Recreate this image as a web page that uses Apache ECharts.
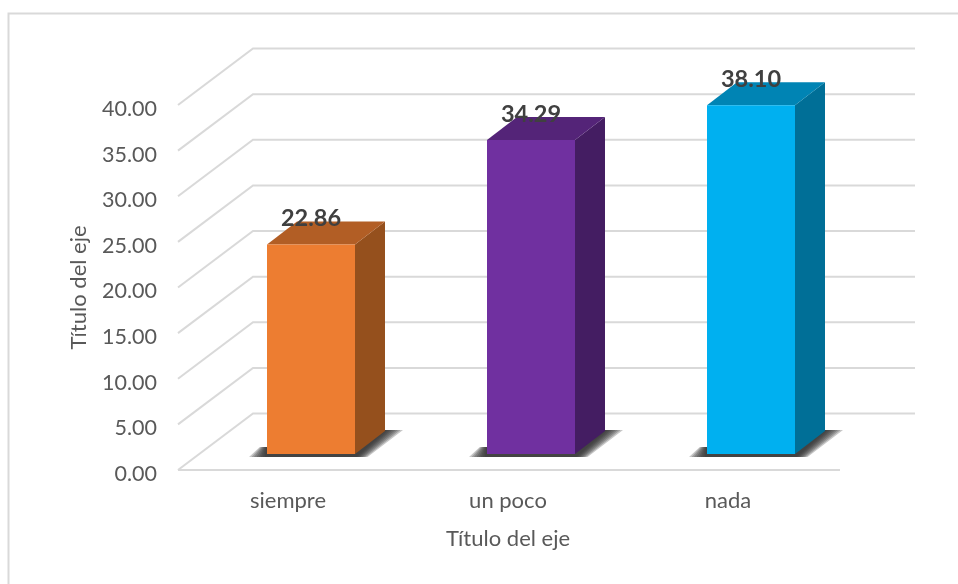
<!DOCTYPE html>
<html>
<head>
<meta charset="utf-8">
<style>html,body{margin:0;padding:0;background:#fff}#c{width:958px;height:584px}</style>
<script src="https://cdn.jsdelivr.net/npm/echarts@6/dist/echarts.min.js"></script>
</head>
<body>
<div id="c"></div>
<script>
const categories = ['siempre', 'un poco', 'nada'];
const values = [22.86, 34.29, 38.10];
const yTicks = [0, 5, 10, 15, 20, 25, 30, 35, 40];
const xTitle = 'Título del eje';
const yTitle = 'Título del eje';
const frontColors = ['#ED7D31', '#7030A0', '#00B0F0'];
const topColors = ['#B25E25', '#542478', '#0084B4'];
const sideColors = ['#95501D', '#441D62', '#006F97'];

const FONT = 'Lato, "Open Sans", sans-serif';
const GRID = '#D9D9D9';
const WALL_DX = 75, WALL_DY = -56.5;
const BAR_SHIFT = 23, BAR_W = 88, BAR_BASE = -16, BAR_TOP = -17, DEPTH_X = 30, DEPTH_Y = -23;
const SHADOW_STEPS = [18, 15.5, 13, 10.5, 8, 6, 4, 2];

function renderGrid(params, api) {
  const cs = params.coordSys;
  const y = api.coord([0, api.value(0)])[1];
  const left = cs.x, right = cs.x + cs.width + 2;
  const pts = [[left, y], [left + WALL_DX, y + WALL_DY], [right + WALL_DX, y + WALL_DY]];
  const style = { stroke: GRID, lineWidth: 2, fill: null };
  const children = [{ type: 'polyline', shape: { points: pts }, style }];
  if (api.value(0) === 0) {
    children.push({ type: 'line', shape: { x1: left, y1: y, x2: right, y2: y }, style });
  }
  return { type: 'group', children };
}

function renderBar(params, api) {
  const i = api.value(0), v = api.value(1);
  const cx = api.coord([i, 0])[0] + BAR_SHIFT;
  const zero = api.coord([i, 0])[1];
  const yb = zero + BAR_BASE, yt = api.coord([i, v])[1] + BAR_TOP;
  const l = cx - BAR_W / 2, r = cx + BAR_W / 2;
  const poly = (pts, fill) => ({ type: 'polygon', shape: { points: pts }, style: { fill, opacity: 1 } });
  const sb = yb + 3, st = yb + DEPTH_Y - 1;
  const layer = 'rgba(50,50,50,0.27)';
  const shadow = [];
  SHADOW_STEPS.forEach(w => {
    // stacked translucent layers give the floor shadow its soft outer edge
    shadow.push(poly([[l - w, sb], [l - w * 0.4, yb - 7], [l, yb - 7], [r, yb - 7], [r + DEPTH_X, st], [r + DEPTH_X + w, st], [r + w * 0.7, sb]], layer));
  });
  return {
    type: 'group',
    children: shadow.concat([
      poly([[r, yt], [r + DEPTH_X, yt + DEPTH_Y], [r + DEPTH_X, yb + DEPTH_Y], [r, yb]], sideColors[i]),
      poly([[l, yt], [l + DEPTH_X, yt + DEPTH_Y], [r + DEPTH_X, yt + DEPTH_Y], [r, yt]], topColors[i]),
      { type: 'rect', shape: { x: l, y: yt, width: BAR_W, height: yb - yt }, style: { fill: frontColors[i] } },
      {
        type: 'text',
        style: {
          x: cx, y: yt - 26, text: v.toFixed(2), align: 'center', verticalAlign: 'middle',
          fill: '#404040', font: 'bold 23.5px ' + FONT
        }
      }
    ])
  };
}

const chart = echarts.init(document.getElementById('c'), null, { renderer: 'canvas' });
chart.setOption({
  animation: false,
  backgroundColor: '#fff',
  grid: { left: 178, top: 105, width: 660, height: 365, containLabel: false },
  xAxis: {
    type: 'category',
    data: categories,
    name: xTitle,
    nameLocation: 'middle',
    nameGap: 58,
    nameTextStyle: { color: '#595959', fontSize: 22, fontFamily: FONT },
    axisLine: { show: false },
    axisTick: { show: false },
    axisLabel: { color: '#595959', fontSize: 22, fontFamily: FONT, margin: 20 }
  },
  yAxis: {
    type: 'value',
    min: 0, max: 40, interval: 5,
    name: yTitle,
    nameLocation: 'middle',
    nameGap: 88,
    nameTextStyle: { color: '#595959', fontSize: 22, fontFamily: FONT },
    axisLine: { show: false },
    axisTick: { show: false },
    splitLine: { show: false },
    axisLabel: { color: '#595959', fontSize: 21.5, fontFamily: FONT, margin: 21, verticalAlign: 'top', lineHeight: 8, formatter: v => v.toFixed(2) }
  },
  series: [
    { type: 'custom', silent: true, z: 1, renderItem: renderGrid, data: yTicks.map(t => [t]), encode: { y: 0 } },
    { type: 'custom', silent: true, z: 2, renderItem: renderBar, data: values.map((v, i) => [i, v]), encode: { x: 0, y: 1 } }
  ],
  graphic: [
    { type: 'polyline', silent: true, shape: { points: [[8.5, 584], [8.5, 13.5], [958, 13.5]] }, style: { stroke: '#D9D9D9', lineWidth: 2, fill: null } }
  ]
});
</script>
</body>
</html>
